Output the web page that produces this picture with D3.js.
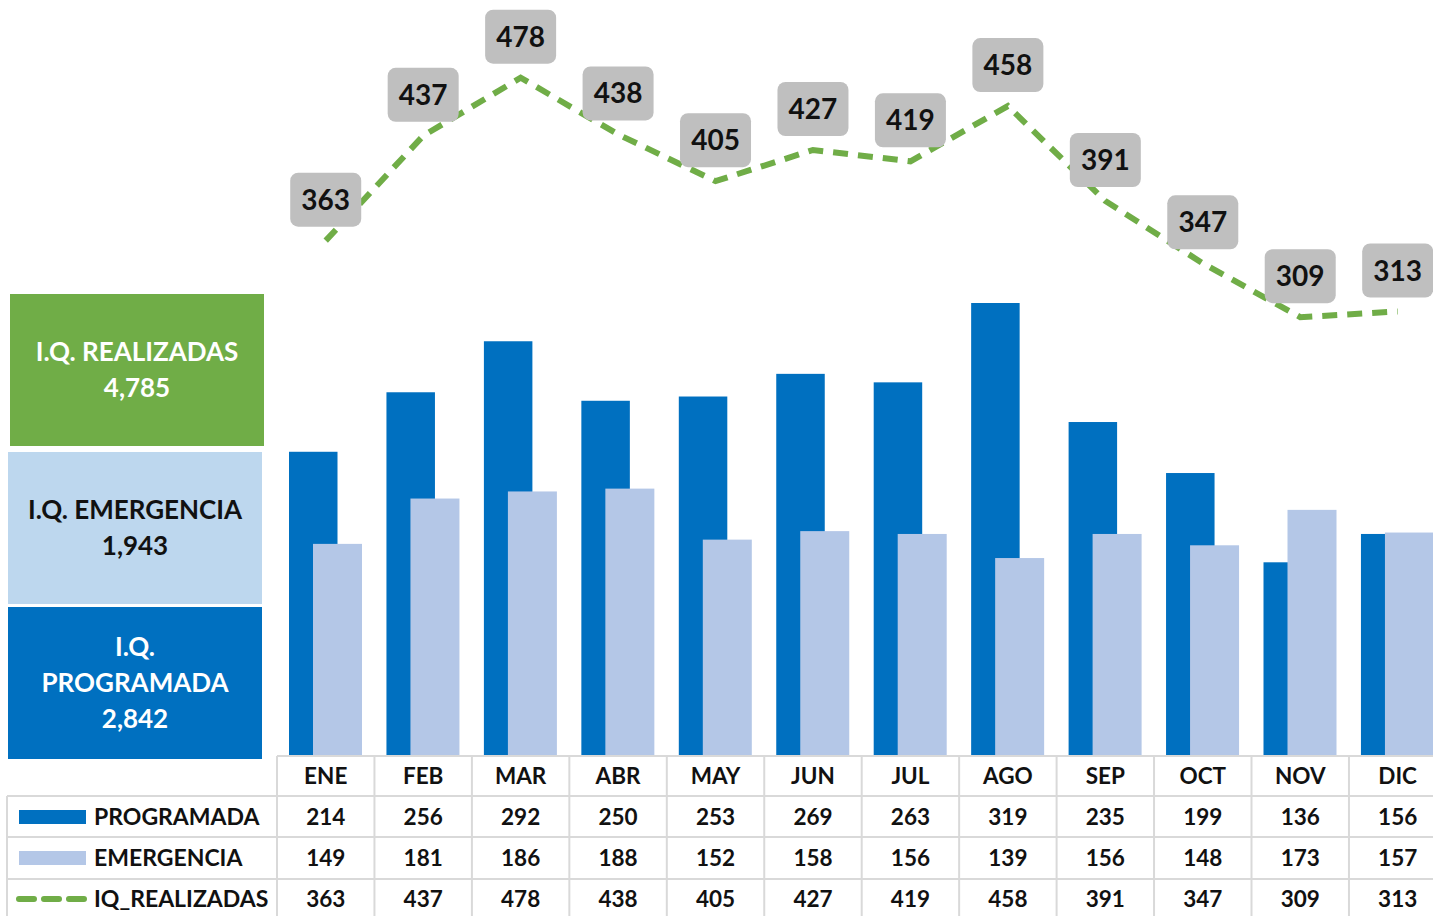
<!DOCTYPE html>
<html>
<head>
<meta charset="utf-8">
<script src="https://cdn.jsdelivr.net/npm/d3@7"></script>
<style>
  body { margin: 0; background: #fff; }
  svg { display: block; font-family: Lato, "Open Sans", sans-serif; }
</style>
</head>
<body>
<script>
const months = ['ENE','FEB','MAR','ABR','MAY','JUN','JUL','AGO','SEP','OCT','NOV','DIC']
const programada = [214,256,292,250,253,269,263,319,235,199,136,156]
const emergencia = [149,181,186,188,152,158,156,139,156,148,173,157]
const realizadas = [363,437,478,438,405,427,419,458,391,347,309,313]
const totals = { realizadas: '4,785', emergencia: '1,943', programada: '2,842' }

const w = 1433, h = 916
const blue = '#0070c0', lightBlue = '#b4c7e7', green = '#70ad47'

const svg = d3.select('body').append('svg').attr('width', w).attr('height', h)

const x = d3.scaleBand().domain(months).range([277, 277 + 97.45 * 12])
const y = d3.scaleLinear().domain([0, 319]).range([755, 303])

// bars
svg.selectAll('rect.prog').data(programada).enter().append('rect')
  .attr('x', (d, i) => x(months[i]) + 12)
  .attr('y', d => y(d))
  .attr('width', 48.5)
  .attr('height', d => y(0) - y(d))
  .attr('fill', blue)

svg.selectAll('rect.emer').data(emergencia).enter().append('rect')
  .attr('x', (d, i) => x(months[i]) + 36)
  .attr('y', d => y(d))
  .attr('width', 49)
  .attr('height', d => y(0) - y(d))
  .attr('fill', lightBlue)

// line
const cx = m => x(m) + x.bandwidth() / 2
const line = d3.line().x((d, i) => cx(months[i])).y(d => y(d))
svg.append('path').datum(realizadas)
  .attr('d', line)
  .attr('fill', 'none')
  .attr('stroke', green)
  .attr('stroke-width', 6)
  .attr('stroke-dasharray', '15,10')

// data labels
const lab = svg.selectAll('g.lab').data(realizadas).enter().append('g')
  .attr('transform', (d, i) => `translate(${cx(months[i])},${y(d) - 41})`)
lab.append('rect')
  .attr('x', -35.5).attr('y', -27).attr('width', 71).attr('height', 54)
  .attr('rx', 8).attr('fill', '#bfbfbf')
lab.append('text').text(d => d)
  .attr('text-anchor', 'middle').attr('dy', '0.36em')
  .attr('font-size', 28).attr('font-weight', 'bold').attr('fill', '#111')

// left summary boxes
const boxes = [
  { x: 10, y: 294, fill: green, color: '#fff', lines: ['I.Q. REALIZADAS', totals.realizadas] },
  { x: 8, y: 452, fill: '#bdd7ee', color: '#111', lines: ['I.Q. EMERGENCIA', totals.emergencia] },
  { x: 8, y: 607, fill: blue, color: '#fff', lines: ['I.Q.', 'PROGRAMADA', totals.programada] }
]
boxes.forEach(b => {
  svg.append('rect').attr('x', b.x).attr('y', b.y).attr('width', 254).attr('height', 152).attr('fill', b.fill)
  const n = b.lines.length
  b.lines.forEach((t, i) => {
    svg.append('text').text(t)
      .attr('x', b.x + 127)
      .attr('y', b.y + 76 + (i - (n - 1) / 2) * 36)
      .attr('dy', '0.36em')
      .attr('text-anchor', 'middle')
      .attr('font-size', 26).attr('font-weight', 'bold')
      .attr('fill', b.color)
  })
})

// data table
const grid = '#d9d9d9'
const rowY = [756, 796, 837, 879, 916]
const tEnd = 1446
svg.append('line').attr('x1', 277).attr('x2', tEnd).attr('y1', rowY[0]).attr('y2', rowY[0]).attr('stroke', grid).attr('stroke-width', 2)
rowY.slice(1, 4).forEach(yy => {
  svg.append('line').attr('x1', 7).attr('x2', tEnd).attr('y1', yy).attr('y2', yy).attr('stroke', grid).attr('stroke-width', 2)
})
svg.append('line').attr('x1', 7).attr('x2', 7).attr('y1', 796).attr('y2', h).attr('stroke', grid).attr('stroke-width', 2)
months.forEach(m => {
  svg.append('line').attr('x1', x(m)).attr('x2', x(m)).attr('y1', 756).attr('y2', h).attr('stroke', grid).attr('stroke-width', 2)
})

svg.selectAll('text.mon').data(months).enter().append('text')
  .text(d => d).attr('x', d => cx(d)).attr('y', 776).attr('dy', '0.36em')
  .attr('text-anchor', 'middle').attr('font-size', 22.5).attr('font-weight', 'bold').attr('fill', '#111')

const rows = [
  { name: 'PROGRAMADA', vals: programada, y: 817 },
  { name: 'EMERGENCIA', vals: emergencia, y: 858 },
  { name: 'IQ_REALIZADAS', vals: realizadas, y: 899 }
]
rows.forEach((r, k) => {
  svg.selectAll(null).data(r.vals).enter().append('text')
    .text(d => d).attr('x', (d, i) => cx(months[i])).attr('y', r.y).attr('dy', '0.36em')
    .attr('text-anchor', 'middle').attr('font-size', 22.5).attr('font-weight', 'bold').attr('fill', '#111')
  svg.append('text').text(r.name).attr('x', 94).attr('y', r.y).attr('dy', '0.36em')
    .attr('font-size', 23).attr('font-weight', 'bold').attr('fill', '#111')
  if (k < 2) {
    svg.append('rect').attr('x', 19).attr('y', r.y - 7).attr('width', 67).attr('height', 14)
      .attr('fill', k === 0 ? blue : lightBlue)
  } else {
    svg.append('line').attr('x1', 19).attr('x2', 86).attr('y1', r.y).attr('y2', r.y)
      .attr('stroke', green).attr('stroke-width', 6).attr('stroke-dasharray', '15,10')
      .attr('stroke-linecap', 'round')
  }
})
</script>
</body>
</html>
